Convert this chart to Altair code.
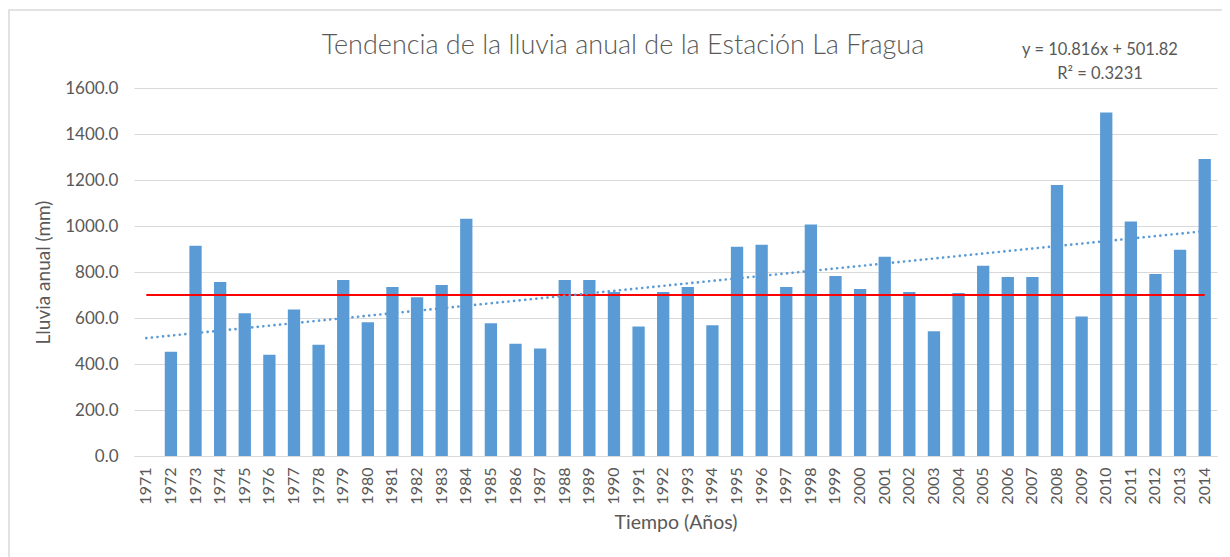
import altair as alt
import pandas as pd

years = [str(y) for y in range(1971, 2015)]
rain = [None, 453, 914, 756, 621, 440, 637, 484, 765, 581, 735, 690, 743, 1032,
        577, 488, 467, 765, 765, 713, 563, 713, 735, 568, 910, 919, 735, 1006,
        783, 726, 866, 713, 542, 709, 827, 778, 778, 1178, 607, 1493, 1020, 791,
        897, 1291]
reference_level = 700.0
trend_years = ["1971", "2014"]
trend_values = [512.6, 977.7]
title_text = "Tendencia de la lluvia anual de la Estación La Fragua"
equation_line1 = "y = 10.816x + 501.82"
equation_line2 = "R² = 0.3231"

BLUE = "#5B9BD5"
GREY = "#595959"
FONT = "Lato"

bars_df = pd.DataFrame({"year": years, "rain": rain})
ref_df = pd.DataFrame({"year": years, "rain": [reference_level] * len(years)})
trend_df = pd.DataFrame({"year": trend_years, "rain": trend_values})
one_df = pd.DataFrame({"k": [0]})

x_enc = alt.X("year:O", scale=alt.Scale(domain=years, paddingInner=0.5, paddingOuter=0.25),
              axis=alt.Axis(title="Tiempo (Años)", labelAngle=270, labelFontSize=16,
                            labelColor=GREY, titleColor=GREY, titleFontSize=19.5,
                            titleFontWeight="normal", titleFont=FONT, labelFont=FONT,
                            domainColor="#D9D9D9", ticks=False, labelPadding=11,
                            titlePadding=9, grid=False))
y_scale = alt.Scale(domain=[0, 1600])
y_axis = alt.Axis(title="Lluvia anual (mm)", format=".1f", values=list(range(0, 1601, 200)),
                  labelFontSize=17, labelColor=GREY, titleColor=GREY, titleFontSize=19,
                  titleFontWeight="normal", titleFont=FONT, labelFont=FONT,
                  domain=False, ticks=False, gridColor="#D9D9D9", labelPadding=16,
                  titlePadding=11)

bars = alt.Chart(bars_df).mark_bar(color=BLUE).encode(
    x=x_enc, y=alt.Y("rain:Q", scale=y_scale, axis=y_axis))

ref = alt.Chart(ref_df).mark_line(color="#FF0000", strokeWidth=2).encode(
    x=alt.X("year:O"), y=alt.Y("rain:Q"))

trend = alt.Chart(trend_df).mark_line(color=BLUE, strokeWidth=2.6, strokeDash=[0.1, 5.5],
                                       strokeCap="round").encode(
    x=alt.X("year:O"), y=alt.Y("rain:Q"))


def label(text, x, y, size, weight="normal"):
    return alt.Chart(one_df).mark_text(text=text, fontSize=size, font=FONT, color=GREY,
                                       fontWeight=weight, baseline="middle",
                                       align="center").encode(
        x=alt.value(x), y=alt.value(y))


title = label(title_text, 489, -42, 27, 300)
eq1 = label(equation_line1, 966, -38, 16.5)
eq2 = label(equation_line2, 966, -14, 16.5)

frame = alt.Chart(one_df).mark_rect(fill=None, stroke="#D9D9D9", strokeWidth=1.5).encode(
    x=alt.value(-125), x2=alt.value(1094), y=alt.value(-78), y2=alt.value(490))

chart = alt.layer(frame, bars, ref, trend, title, eq1, eq2).properties(
    width=1083, height=368,
    autosize=alt.AutoSizeParams(type="none"),
    padding={"left": 126, "top": 80, "right": 5, "bottom": 101},
).configure_view(stroke=None)

chart.save("out.html", embed_options={"renderer": "svg", "actions": False})
